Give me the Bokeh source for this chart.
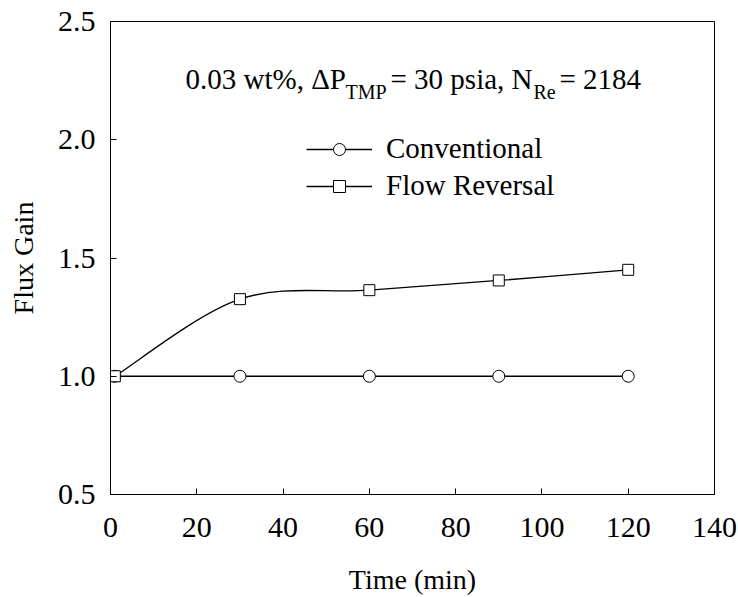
from bokeh.plotting import figure
from bokeh.models import FixedTicker, PrintfTickFormatter, Label, Legend, LegendItem, Range1d
from bokeh.embed import file_html
from bokeh.resources import INLINE
import numpy as np

# ---- data ----
time_conv = [1, 30, 60, 90, 120]
gain_conv = [1.0, 1.0, 1.0, 1.0, 1.0]
time_rev = [1, 30, 60, 90, 120]
gain_rev = [1.0, 1.326, 1.364, 1.405, 1.45]
x_ticks = [0, 20, 40, 60, 80, 100, 120, 140]
y_ticks = [0.5, 1.0, 1.5, 2.0, 2.5]

FONT = "'Liberation Serif', 'Times New Roman', serif"
FS_TICK = "30px"
FS_AX = "28px"
FS_LEG = "29px"
FS_ANN = "29px"
FS_SUB = "20px"

p = figure(width=738, height=597, output_backend="svg", toolbar_location=None,
           x_range=Range1d(0, 140), y_range=Range1d(0.5, 2.5),
           min_border_left=110, min_border_right=24, min_border_top=21, min_border_bottom=103)
p.grid.visible = False
p.outline_line_color = "black"
p.outline_line_width = 1
p.background_fill_color = "white"
p.border_fill_color = "white"

for ax in (p.xaxis[0], p.yaxis[0]):
    ax.major_tick_in = 6
    ax.major_tick_out = 0
    ax.minor_tick_line_color = None
    ax.axis_line_color = "black"
    ax.major_tick_line_color = "black"
    ax.major_label_text_font = FONT
    ax.major_label_text_font_size = FS_TICK
    ax.major_label_text_color = "black"
    ax.axis_label_text_font = FONT
    ax.axis_label_text_font_size = FS_AX
    ax.axis_label_text_font_style = "normal"
    ax.axis_label_text_color = "black"

p.xaxis.ticker = FixedTicker(ticks=x_ticks)
p.yaxis.ticker = FixedTicker(ticks=y_ticks)
p.yaxis.formatter = PrintfTickFormatter(format="%.1f")
p.xaxis.axis_label = "Time (min)"
p.yaxis.axis_label = "Flux Gain"
p.xaxis.major_label_standoff = 23
p.yaxis.major_label_standoff = 15
p.xaxis.axis_label_standoff = 24
p.yaxis.axis_label_standoff = 16

# conventional
l1 = p.line(time_conv, gain_conv, line_color="black", line_width=1.3)
s1 = p.scatter(time_conv, gain_conv, marker="circle", size=12, fill_color="white",
               line_color="black", line_width=1)

# flow reversal: smoothed (Bezier through the data points)
xr = np.array(time_rev, dtype=float)
yr = np.array(gain_rev, dtype=float)
x0 = xr[:-1]; y0 = yr[:-1]; x1 = xr[1:]; y1 = yr[1:]
xp = np.concatenate([[xr[0]], xr[:-2]]); yp = np.concatenate([[yr[0]], yr[:-2]])
xn = np.concatenate([xr[2:], [xr[-1]]]); yn = np.concatenate([yr[2:], [yr[-1]]])
cx0 = x0 + (x1 - xp) / 6.0; cy0 = y0 + (y1 - yp) / 6.0
cx1 = x1 - (xn - x0) / 6.0; cy1 = y1 - (yn - y0) / 6.0
b2 = p.bezier(x0=x0, y0=y0, x1=x1, y1=y1, cx0=cx0, cy0=cy0, cx1=cx1, cy1=cy1,
              line_color="black", line_width=1.3)
s2 = p.scatter(time_rev, gain_rev, marker="square", size=11, fill_color="white",
               line_color="black", line_width=1)

legend = Legend(items=[LegendItem(label="Conventional", renderers=[l1, s1]),
                       LegendItem(label="Flow Reversal", renderers=[b2, s2])],
                location=(196, 292), glyph_width=66, glyph_height=30, spacing=4,
                label_standoff=14, padding=0, margin=0,
                border_line_color=None, background_fill_alpha=0,
                label_text_font=FONT, label_text_font_size=FS_LEG, label_text_color="black")
p.add_layout(legend, "center")

# annotation with subscripts
def lab(x, y, t, size):
    p.add_layout(Label(x=x, y=y, x_units="screen", y_units="screen", text=t,
                       text_font=FONT, text_font_size=size, text_color="black",
                       text_align="left", text_baseline="alphabetic"))

main_y = 416
sub_y = 403
lab(75, main_y, "0.03 wt%, \u0394P", FS_ANN)
lab(235, sub_y, "TMP", FS_SUB)
lab(280, main_y, "= 30 psia, N", FS_ANN)
lab(423, sub_y, "Re", FS_SUB)
lab(449, main_y, "= 2184", FS_ANN)

open("out.html", "w").write(file_html(p, INLINE))
